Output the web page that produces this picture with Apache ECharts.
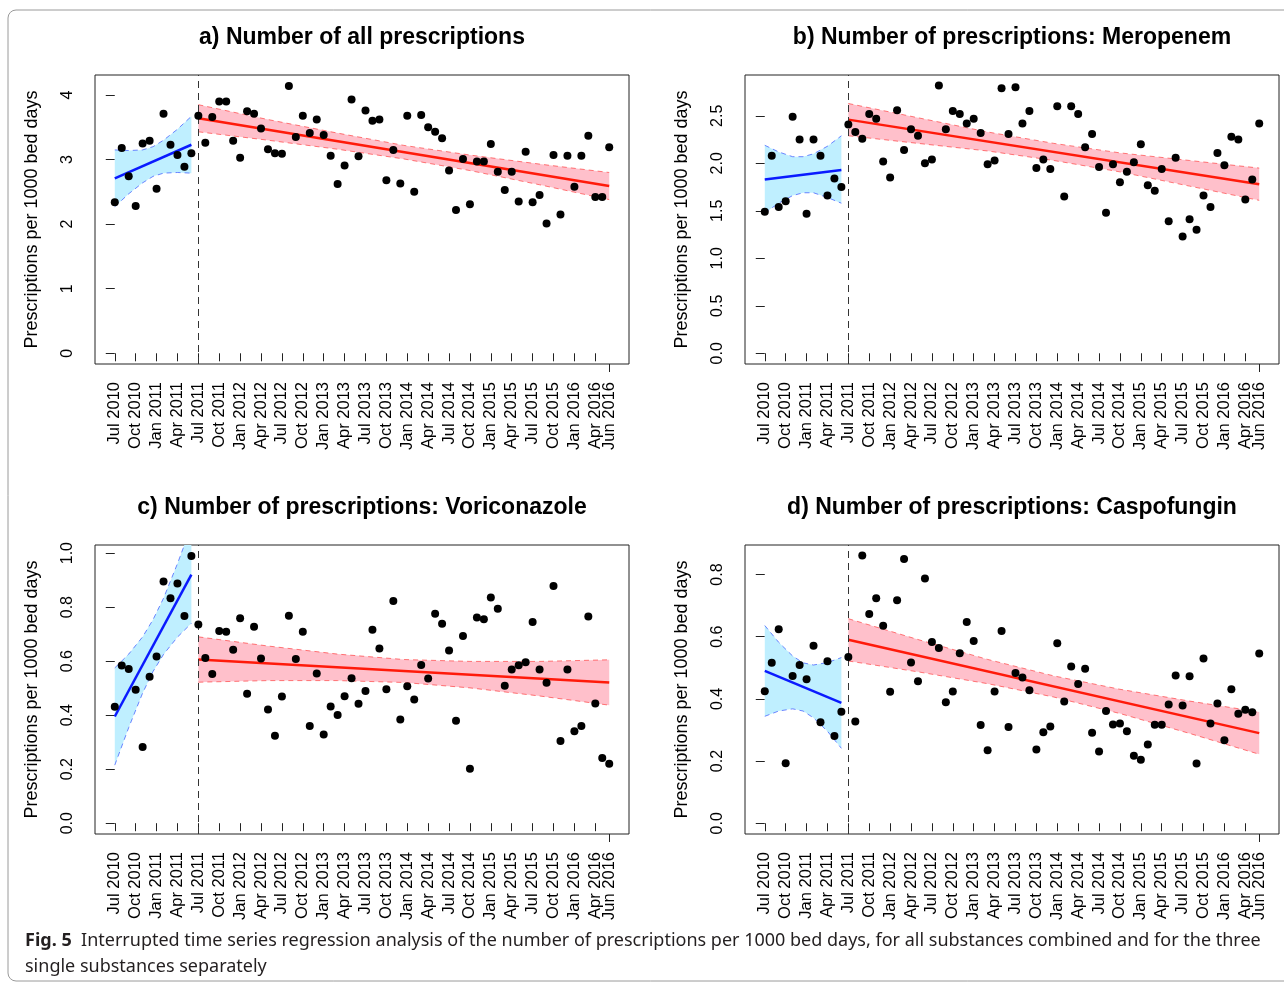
<!DOCTYPE html>
<html>
<head>
<meta charset="utf-8">
<script src="https://cdn.jsdelivr.net/npm/echarts@6/dist/echarts.min.js"></script>
<style>
  html, body { margin: 0; padding: 0; background: #fff; }
  #main { width: 1284px; height: 985px; }
</style>
</head>
<body>
<div id="main"></div>
<script>
// x axis: month index, 0 = Jul 2010 ... 71 = Jun 2016
const tickMonths = [0, 3, 6, 9, 12, 15, 18, 21, 24, 27, 30, 33, 36, 39, 42, 45, 48, 51, 54, 57, 60, 63, 66, 69, 71];
const tickLabels = ['Jul 2010', 'Oct 2010', 'Jan 2011', 'Apr 2011', 'Jul 2011', 'Oct 2011', 'Jan 2012', 'Apr 2012',
  'Jul 2012', 'Oct 2012', 'Jan 2013', 'Apr 2013', 'Jul 2013', 'Oct 2013', 'Jan 2014', 'Apr 2014', 'Jul 2014',
  'Oct 2014', 'Jan 2015', 'Apr 2015', 'Jul 2015', 'Oct 2015', 'Jan 2016', 'Apr 2016', 'Jun 2016'];
const interventionMonth = 12;

// monthly prescriptions per 1000 bed days
const allPrescriptions = [
  2.34, 3.18, 2.74, 2.28, 3.25, 3.29, 2.55, 3.71, 3.23, 3.07, 2.89, 3.10,
  3.68, 3.26, 3.66, 3.90, 3.90, 3.29, 3.03, 3.75, 3.71, 3.48, 3.16, 3.10,
  3.09, 4.14, 3.35, 3.68, 3.41, 3.62, 3.38, 3.06, 2.62, 2.91, 3.93, 3.05,
  3.76, 3.60, 3.62, 2.68, 3.15, 2.63, 3.68, 2.50, 3.69, 3.50, 3.43, 3.33,
  2.83, 2.22, 3.01, 2.31, 2.97, 2.97, 3.24, 2.81, 2.53, 2.81, 2.35, 3.12,
  2.34, 2.45, 2.01, 3.07, 2.15, 3.06, 2.58, 3.06, 3.37, 2.42, 2.42, 3.19];
const meropenem = [
  1.49, 2.08, 1.54, 1.60, 2.49, 2.25, 1.47, 2.25, 2.08, 1.66, 1.84, 1.75,
  2.41, 2.33, 2.26, 2.52, 2.47, 2.02, 1.85, 2.56, 2.14, 2.36, 2.29, 2.00,
  2.04, 2.82, 2.36, 2.55, 2.52, 2.42, 2.47, 2.32, 1.99, 2.03, 2.79, 2.31,
  2.80, 2.42, 2.55, 1.95, 2.04, 1.94, 2.60, 1.65, 2.60, 2.52, 2.17, 2.31,
  1.96, 1.48, 1.99, 1.80, 1.91, 2.01, 2.20, 1.77, 1.71, 1.94, 1.39, 2.06,
  1.23, 1.41, 1.30, 1.66, 1.54, 2.11, 1.98, 2.28, 2.25, 1.62, 1.83, 2.42];
const voriconazole = [
  0.431, 0.584, 0.571, 0.494, 0.282, 0.542, 0.617, 0.895, 0.833, 0.887, 0.767, 0.989,
  0.736, 0.612, 0.552, 0.712, 0.709, 0.642, 0.759, 0.479, 0.727, 0.610, 0.421, 0.324,
  0.469, 0.768, 0.608, 0.709, 0.360, 0.554, 0.328, 0.432, 0.401, 0.470, 0.537, 0.442,
  0.489, 0.716, 0.647, 0.496, 0.823, 0.384, 0.507, 0.458, 0.586, 0.536, 0.775, 0.738,
  0.639, 0.379, 0.693, 0.202, 0.762, 0.755, 0.836, 0.794, 0.509, 0.569, 0.585, 0.596,
  0.745, 0.569, 0.520, 0.878, 0.304, 0.569, 0.340, 0.360, 0.765, 0.443, 0.241, 0.220];
const caspofungin = [
  0.425, 0.516, 0.624, 0.193, 0.474, 0.509, 0.463, 0.571, 0.325, 0.521, 0.281, 0.359,
  0.535, 0.327, 0.861, 0.673, 0.724, 0.635, 0.423, 0.717, 0.850, 0.517, 0.457, 0.787,
  0.583, 0.564, 0.389, 0.424, 0.547, 0.647, 0.586, 0.316, 0.235, 0.424, 0.618, 0.310,
  0.483, 0.469, 0.428, 0.237, 0.293, 0.311, 0.579, 0.392, 0.504, 0.448, 0.497, 0.291,
  0.231, 0.361, 0.318, 0.321, 0.296, 0.217, 0.204, 0.253, 0.317, 0.317, 0.382, 0.475,
  0.379, 0.473, 0.192, 0.530, 0.321, 0.385, 0.267, 0.431, 0.352, 0.365, 0.357, 0.546];

// fitted segments (value at first and last month of each period)
const preMonths = [0, 11];
const postMonths = [12, 71];
const preFitA = [2.71, 3.23], postFitA = [3.64, 2.59];
const preFitB = [1.83, 1.93], postFitB = [2.46, 1.78];
const preFitC = [0.395, 0.920], postFitC = [0.606, 0.521];
const preFitD = [0.490, 0.387], postFitD = [0.590, 0.290];

// confidence bands, read at these months
const preBandMonths = [0, 2, 4, 5.5, 7, 9, 11];
const postBandMonths = [12, 22, 32, 41.5, 51, 61, 71];
const preUpperA = [3.15, 3.14, 3.15, 3.20, 3.30, 3.47, 3.67];
const preLowerA = [2.27, 2.47, 2.64, 2.74, 2.79, 2.80, 2.79];
const postUpperA = [3.85, 3.62, 3.41, 3.22, 3.07, 2.93, 2.80];
const postLowerA = [3.43, 3.30, 3.16, 3.01, 2.83, 2.61, 2.38];
const preUpperB = [2.19, 2.12, 2.07, 2.07, 2.10, 2.18, 2.29];
const preLowerB = [1.48, 1.58, 1.66, 1.69, 1.69, 1.64, 1.58];
const postUpperB = [2.63, 2.48, 2.33, 2.21, 2.11, 2.03, 1.95];
const postLowerB = [2.29, 2.21, 2.13, 2.03, 1.91, 1.76, 1.61];
const preUpperC = [0.575, 0.626, 0.690, 0.754, 0.833, 0.961, 1.10];
const preLowerC = [0.215, 0.354, 0.482, 0.562, 0.625, 0.689, 0.740];
const postUpperC = [0.690, 0.656, 0.626, 0.606, 0.599, 0.599, 0.605];
const postLowerC = [0.522, 0.528, 0.528, 0.521, 0.501, 0.471, 0.437];
const preUpperD = [0.636, 0.582, 0.538, 0.516, 0.509, 0.517, 0.533];
const preLowerD = [0.344, 0.361, 0.368, 0.361, 0.339, 0.296, 0.241];
const postUpperD = [0.658, 0.591, 0.527, 0.474, 0.431, 0.393, 0.358];
const postLowerD = [0.522, 0.487, 0.449, 0.406, 0.353, 0.289, 0.222];

// y axis ticks
const yTicksA = [0, 1, 2, 3, 4];
const yTicksB = [0, 0.5, 1.0, 1.5, 2.0, 2.5];
const yTicksC = [0, 0.2, 0.4, 0.6, 0.8, 1.0];
const yTicksD = [0, 0.2, 0.4, 0.6, 0.8];

const titles = [
  'a) Number of all prescriptions',
  'b) Number of prescriptions: Meropenem',
  'c) Number of prescriptions: Voriconazole',
  'd) Number of prescriptions: Caspofungin'
];
const yName = 'Prescriptions per 1000 bed days';

const FONT = '"Liberation Sans", Arial, Helvetica, sans-serif';
const CAPTION_FONT = '"Noto Sans", "Open Sans", sans-serif';

const panels = [
  { left: 95, top: 75, values: allPrescriptions, yMin: -0.166, yMax: 4.31, ticks: yTicksA, dec: 0,
    preFit: preFitA, postFit: postFitA, preUp: preUpperA, preLo: preLowerA, postUp: postUpperA, postLo: postLowerA },
  { left: 745, top: 75, values: meropenem, yMin: -0.113, yMax: 2.93, ticks: yTicksB, dec: 1,
    preFit: preFitB, postFit: postFitB, preUp: preUpperB, preLo: preLowerB, postUp: postUpperB, postLo: postLowerB },
  { left: 95, top: 545, values: voriconazole, yMin: -0.04, yMax: 1.03, ticks: yTicksC, dec: 1,
    preFit: preFitC, postFit: postFitC, preUp: preUpperC, preLo: preLowerC, postUp: postUpperC, postLo: postLowerC },
  { left: 745, top: 545, values: caspofungin, yMin: -0.0345, yMax: 0.895, ticks: yTicksD, dec: 1,
    preFit: preFitD, postFit: postFitD, preUp: preUpperD, preLo: preLowerD, postUp: postUpperD, postLo: postLowerD }
];
const plotW = 534, plotH = 289;

// the last tick (Jun 2016) sits close to Apr 2016; it goes on its own axis so
// the label overlap check does not drop one of them
const mainTicks = tickMonths.slice(0, -1);
const endTicks = tickMonths.slice(-1);

function pairs(xs, ys) {
  return xs.map((x, i) => [x, ys[i]]);
}

// filled band between upper and lower curves, clipped to the plot box
function bandFill(idx, months, upper, lower, color) {
  return {
    type: 'custom', xAxisIndex: idx, yAxisIndex: idx, silent: true, z: 1,
    data: [[months[0], upper[0]]],
    renderItem: function (params, api) {
      const pts = [];
      for (let i = 0; i < months.length; i++) pts.push(api.coord([months[i], upper[i]]));
      for (let i = months.length - 1; i >= 0; i--) pts.push(api.coord([months[i], lower[i]]));
      const cs = params.coordSys;
      return {
        type: 'polygon',
        shape: { points: pts },
        style: { fill: color },
        clipPath: { type: 'rect', shape: { x: cs.x, y: cs.y, width: cs.width, height: cs.height } }
      };
    }
  };
}

function dashedEdge(idx, months, vals, color) {
  return {
    type: 'line', xAxisIndex: idx, yAxisIndex: idx, silent: true, z: 2,
    showSymbol: false, data: pairs(months, vals),
    lineStyle: { color: color, width: 1, type: [5, 4] }
  };
}

function fitLine(idx, months, vals, color) {
  return {
    type: 'line', xAxisIndex: idx, yAxisIndex: idx, silent: true, z: 3,
    showSymbol: false, data: pairs(months, vals),
    lineStyle: { color: color, width: 2.5 }
  };
}

function monthAxis(k, ticks) {
  return {
    type: 'value', gridIndex: k, position: 'bottom', min: -2.84, max: 73.84,
    splitLine: { show: false },
    axisLine: { show: false },
    axisTick: { show: true, length: 8, lineStyle: { color: '#222', width: 1 }, customValues: ticks },
    axisLabel: {
      rotate: 90, margin: 18, fontSize: 16.5, color: '#000', fontFamily: FONT,
      customValues: ticks, hideOverlap: false,
      formatter: function (v) { return tickLabels[tickMonths.indexOf(Math.round(v))] || ''; }
    }
  };
}

const grids = [], xAxes = [], extraXAxes = [], yAxes = [], series = [], graphics = [];

panels.forEach(function (p, k) {
  grids.push({
    left: p.left, top: p.top, width: plotW, height: plotH,
    show: true, borderColor: '#222', borderWidth: 1, backgroundColor: 'transparent',
    containLabel: false, outerBoundsMode: 'none'
  });
  xAxes.push(monthAxis(k, mainTicks));
  extraXAxes.push(monthAxis(k, endTicks));
  yAxes.push({
    type: 'value', gridIndex: k, min: p.yMin, max: p.yMax,
    splitLine: { show: false },
    axisLine: { show: false },
    axisTick: { show: true, length: 9, lineStyle: { color: '#222', width: 1 }, customValues: p.ticks },
    axisLabel: {
      rotate: 90, margin: 19, fontSize: 16, color: '#000', fontFamily: FONT,
      customValues: p.ticks, hideOverlap: false, showMinLabel: true, showMaxLabel: true,
      formatter: function (v) { return v.toFixed(p.dec); }
    },
    name: yName, nameLocation: 'middle', nameGap: 54,
    nameTextStyle: { fontSize: 18, color: '#000', fontFamily: FONT }
  });

  series.push(bandFill(k, preBandMonths, p.preUp, p.preLo, '#bfefff'));
  series.push(bandFill(k, postBandMonths, p.postUp, p.postLo, '#ffc0cb'));
  series.push(dashedEdge(k, preBandMonths, p.preUp, 'rgba(40,70,255,0.65)'));
  series.push(dashedEdge(k, preBandMonths, p.preLo, 'rgba(40,70,255,0.65)'));
  series.push(dashedEdge(k, postBandMonths, p.postUp, 'rgba(255,40,40,0.6)'));
  series.push(dashedEdge(k, postBandMonths, p.postLo, 'rgba(255,40,40,0.6)'));
  series.push(fitLine(k, preMonths, p.preFit, '#0a1aff'));
  series.push(fitLine(k, postMonths, p.postFit, '#ff1a0a'));

  series.push({
    type: 'scatter', xAxisIndex: k, yAxisIndex: k, z: 5, silent: true,
    symbol: 'circle', symbolSize: 8,
    itemStyle: { color: '#000', opacity: 1 },
    data: p.values.map((v, i) => [i, v]),
    markLine: {
      silent: true, symbol: ['none', 'none'], label: { show: false },
      lineStyle: { color: '#333', width: 1, type: [7, 5] },
      data: [{ xAxis: interventionMonth }]
    }
  });

  graphics.push({
    type: 'text', x: p.left + plotW / 2, y: p.top - 37,
    style: {
      text: titles[k], fontSize: 23, fontWeight: 'bold', fontFamily: FONT, fill: '#000',
      align: 'center', verticalAlign: 'middle'
    }
  });
});

// figure frame and caption
graphics.push({
  type: 'rect', shape: { x: 8, y: 10, width: 1300, height: 971, r: 8 },
  style: { fill: 'none', stroke: '#9a9a9a', lineWidth: 1 }, z: -1
});
graphics.push({
  type: 'text', x: 25, y: 941,
  style: {
    text: '{b|Fig. 5}  Interrupted time series regression analysis of the number of prescriptions per 1000 bed days, for all substances combined and for the three',
    fontSize: 18, fontFamily: CAPTION_FONT, fill: '#231f20', verticalAlign: 'middle',
    rich: { b: { fontSize: 18, fontWeight: 'bold', fontFamily: CAPTION_FONT, fill: '#231f20' } }
  }
});
graphics.push({
  type: 'text', x: 25, y: 967,
  style: {
    text: 'single substances separately',
    fontSize: 18, fontFamily: CAPTION_FONT, fill: '#231f20', verticalAlign: 'middle'
  }
});

const chart = echarts.init(document.getElementById('main'), null, { renderer: 'canvas' });
chart.setOption({
  animation: false,
  backgroundColor: '#fff',
  grid: grids,
  xAxis: xAxes.concat(extraXAxes),
  yAxis: yAxes,
  series: series,
  graphic: graphics
});
</script>
</body>
</html>
